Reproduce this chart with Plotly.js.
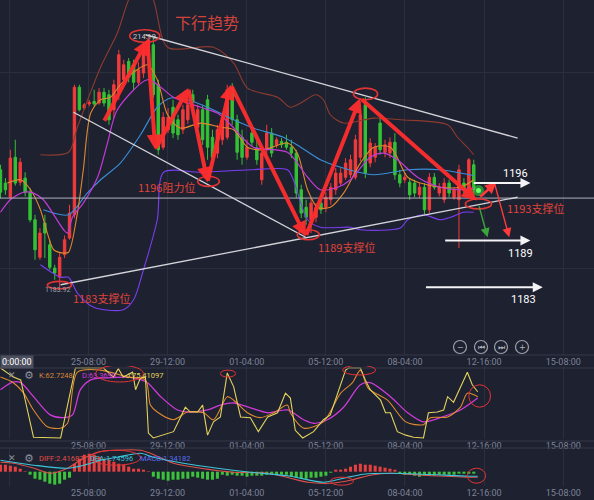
<!DOCTYPE html>
<html><head><meta charset="utf-8">
<script src="https://cdn.plot.ly/plotly-3.0.1.min.js"></script>
<style>html,body{margin:0;padding:0;background:#1e2130;}#chart{width:594px;height:500px;}</style>
</head><body><div id="chart"></div>
<script>
// ---------- DATA ----------
const candleIdx = [0,1,2,3,4,5,6,7,8,9,10,11,12,13,14,15,16,17,18,19,20,21,22,23,24,25,26,27,28,29,30,31,32,33,34,35,36,37,38,39,40,41,42,43,44,45,46,47,48,49,50,51,52,53,54,55,56,57,58,59,60,61,62,63,64,65,66,67,68,69,70,71,72,73,74,75,76,77,78,79,80,81,82,83,84,85,86,87,88,89,90,91,92,93,94,95,96];
const opens = [1198.0,1196.4,1194.7,1199.5,1196.5,1197.0,1195.3,1192.0,1187.5,1191.6,
1189.0,1186.2,1185.1,1187.8,1189.8,1192.6,1207.9,1205.4,1205.9,1206.2,
1206.0,1207.3,1207.0,1205.2,1207.2,1208.8,1211.0,1210.6,1208.5,1209.6,
1211.8,1213.0,1208.2,1200.7,1202.8,1205.5,1204.0,1202.8,1204.0,1207.0,
1203.1,1205.2,1206.4,1201.9,1200.0,1201.6,1201.9,1207.9,1204.0,1201.9,
1199.5,1202.4,1200.6,1196.8,1200.4,1202.4,1201.0,1201.4,1201.3,1200.7,
1200.0,1195.6,1193.5,1192.0,1192.3,1194.0,1193.5,1194.4,1195.6,1196.4,
1197.1,1197.4,1197.1,1199.5,1205.8,1198.8,1199.5,1203.6,1200.1,1200.0,
1201.3,1197.4,1196.8,1196.5,1196.4,1195.0,1195.9,1193.2,1197.1,1195.2,
1194.4,1196.4,1194.7,1194.4,1196.4,1195.6,1198.6];
const highs = [1198.6,1197.0,1200.4,1201.6,1199.4,1197.7,1195.8,1192.6,1191.0,1192.6,
1189.6,1186.6,1188.1,1190.1,1193.8,1208.2,1208.2,1206.0,1206.4,1207.6,
1207.8,1207.8,1207.6,1208.8,1212.4,1211.2,1211.4,1211.2,1210.9,1213.2,
1214.19,1213.8,1208.8,1204.9,1205.4,1206.4,1204.6,1205.8,1206.4,1207.6,
1205.8,1205.8,1207.0,1202.8,1203.4,1204.6,1208.2,1208.4,1204.6,1202.8,
1201.6,1203.0,1201.6,1200.4,1203.4,1203.0,1201.9,1201.8,1202.2,1201.6,
1200.4,1196.2,1194.4,1194.6,1194.0,1195.0,1195.3,1196.4,1198.2,1198.2,
1199.4,1199.8,1202.2,1205.2,1206.7,1201.8,1201.2,1204.2,1201.6,1201.9,
1202.4,1198.0,1197.6,1197.0,1196.8,1196.4,1196.4,1197.6,1197.6,1196.4,
1197.0,1196.8,1195.9,1198.6,1197.0,1199.4,1199.2];
const lows = [1194.6,1195.0,1194.4,1196.1,1196.1,1194.8,1191.7,1187.2,1187.2,1187.4,
1186.0,1184.8,1183.92,1187.4,1189.6,1192.2,1205.0,1205.2,1205.6,1205.6,
1205.8,1205.6,1203.4,1204.2,1206.4,1208.2,1208.5,1207.6,1208.1,1209.0,
1211.2,1206.6,1199.8,1200.4,1202.4,1201.8,1201.6,1202.3,1203.5,1205.0,
1202.8,1201.0,1199.2,1198.6,1199.4,1201.0,1201.6,1203.4,1199.2,1198.6,
1199.2,1200.8,1198.6,1196.2,1199.8,1199.5,1200.6,1200.6,1200.4,1199.4,
1194.6,1192.2,1191.4,1190.4,1191.7,1192.7,1192.9,1193.8,1195.0,1196.1,
1196.8,1197.0,1196.8,1199.0,1197.0,1198.3,1198.9,1199.8,1199.5,1199.4,
1196.8,1195.9,1196.4,1194.4,1194.7,1194.6,1192.6,1192.8,1195.6,1194.8,
1194.0,1194.7,1194.4,1188.6,1195.2,1195.2,1194.4];
const closes = [1195.3,1195.6,1199.4,1196.4,1198.9,1195.3,1192.0,1188.4,1190.4,1190.4,
1186.3,1185.6,1187.5,1189.6,1192.8,1207.9,1205.2,1205.8,1206.1,1205.9,
1207.3,1206.0,1204.0,1208.2,1211.8,1210.6,1209.1,1208.5,1210.0,1212.4,
1213.6,1207.0,1200.4,1204.3,1204.3,1202.4,1202.2,1205.2,1205.8,1206.1,
1205.2,1201.6,1200.7,1199.5,1202.8,1204.0,1207.6,1204.0,1200.1,1199.5,
1200.7,1201.3,1199.2,1200.0,1202.4,1200.0,1201.6,1201.0,1200.7,1200.0,
1195.2,1192.8,1192.3,1194.0,1193.5,1193.2,1194.7,1195.9,1197.6,1197.6,
1198.8,1199.2,1201.6,1204.6,1197.6,1201.2,1200.7,1200.4,1201.0,1201.3,
1197.4,1196.4,1197.1,1195.0,1195.2,1195.9,1193.2,1197.1,1195.9,1195.9,
1196.4,1195.2,1195.6,1198.0,1195.6,1199.2,1195.6];

// Bollinger bands and moving averages (read at sample points)
const bbUpIdx = [8.1,13.8,15.6,20.3,23.7,26,28.4,31,33.9,43.2,47.3,50.1,56.2,58.8,60.9,63.9,65.5,66.9,69.6,75.7,81.1,90.7,92.7,94.7,96];
const bbUpVal = [1199.8,1200.1,1203.1,1210.3,1214.4,1218.4,1220.8,1218.4,1212.7,1212.7,1210.8,1207.8,1206.7,1205.5,1206.0,1207.0,1206.4,1204.6,1203.6,1204.2,1204.0,1203.4,1201.9,1200.7,1199.8];
const bbMidIdx = [8.7,13.8,17.6,20.3,24.3,28.4,31.8,34.5,37.9,42,47.3,51.3,57.4,60.9,64.9,69,75.7,82.6,89.2,93.3,96];
const bbMidVal = [1193.2,1192.6,1195.2,1196.8,1198.8,1202.2,1205.5,1206.6,1206.4,1205.5,1204.0,1203.0,1201.9,1200.7,1199.2,1198.3,1197.4,1198.0,1198.0,1197.6,1197.3];
const bbLowIdx = [8.1,12.2,13.8,15.6,18.9,24.9,27,29,31.8,33.1,40.6,50.7,58.2,59.4,62.3,64.9,71,73,81.1,82.6,85.8,89.2,91.3,93.9,96];
const bbLowVal = [1186.6,1185.1,1185.1,1183.2,1181.5,1181.2,1182.4,1186.0,1192.0,1197.7,1197.7,1198.0,1198.0,1196.8,1192.0,1191.1,1191.1,1190.8,1191.0,1192.0,1192.6,1192.0,1192.3,1192.9,1192.9];
const maFastIdx = [1.4,4.1,6.1,8.1,9.5,10.8,12.8,13.8,15.6,16.8,18.3,20.3,22.3,24.3,27,29.8,31.8,33.9,36.5,40.6,44.6,47.3,50.1,53.3,58.2,60.2,62.3,64.3,66.9,69.6,73,75.7,79.1,82.6,85.2,89.2,93.3,96];
const maFastVal = [1196.4,1196.8,1195.6,1193.2,1190.4,1188.4,1188.0,1188.1,1192.8,1198.0,1204.8,1206.4,1206.7,1208.2,1209.7,1210.6,1208.8,1204.6,1203.0,1203.6,1203.1,1202.8,1200.7,1200.4,1201.2,1200.0,1195.6,1193.5,1193.5,1195.2,1198.8,1200.7,1200.7,1197.1,1196.4,1195.9,1195.9,1196.8];
const maSlowIdx = [0,2,4.7,6.7,8.7,12.8,13.6,14.6,16.8,19.7,21.7,23.7,29.8,32.5,35.1,40.6,44,46.7,51.3,58.2,62.3,64.9,68.4,71,75,77.7,80.5,84.6,89.2,92.7,96];
const maSlowVal = [1192.9,1194.4,1195.3,1195.2,1194.4,1190.8,1190.4,1192.3,1194.0,1197.1,1201.2,1205.2,1208.8,1207.9,1206.7,1205.5,1204.8,1203.4,1200.7,1200.1,1197.1,1195.6,1195.9,1196.8,1199.5,1200.0,1199.2,1197.1,1195.9,1195.6,1195.8];

// KDJ
const kIdx = [0,2.6,4.7,6.7,9.5,12.2,13.6,15.6,20.3,25.8,29.4,30.4,31.8,35.1,37.9,41.2,43.2,46,47.3,50.1,52.7,55.4,58.2,58.8,61.5,65.5,69,71.4,73,74.6,78.5,82.2,85.8,87.2,90.7,93.3,94.7,96.8];
const kVal = [87,79,64,40,16,14,21,94,97,87,83,47,37,26,37,36,26,59,54,36,29,36,47,36,14,23,64,79,97,71,54,23,19,29,30,44,64,59];
const dIdx = [0,2.6,4.1,6.7,10.1,12.8,14.6,16.2,18.3,21.7,27,29.8,32.5,35.9,38.5,42,44.6,47.3,50.7,54.2,58.2,61.5,63.5,66.3,69.6,73,75,79.1,82.6,85.8,89.2,93.3,96.8];
const dVal = [69,80,79,59,33,29,33,69,83,86,86,79,59,40,37,40,47,50,43,36,40,26,21,26,44,76,79,59,36,23,29,40,57];
const jIdx = [0,2.6,4.1,6.7,12.2,15.2,20.9,22.9,23.9,24.9,26.8,27.4,28.4,29.4,30,31,35.1,37.5,38.5,40,41,42,43.2,44.6,46,47.3,48.7,50.7,52.3,54.2,56.2,57.8,58.8,59.8,61.3,63.5,65.5,66.9,70,70.6,73,74,75,77.1,78.1,79.1,80.5,82.2,83.8,85.8,86.8,88.6,89.9,90.7,91.9,94.7,95.7,96.8];
const jVal = [100,87,83,1,0,100,100,87,99,87,94,69,86,87,7,0,9,44,37,37,47,4,23,30,93,73,30,29,9,30,36,64,57,11,0,9,26,33,97,100,100,83,69,54,36,36,9,4,1,0,36,37,40,59,51,94,76,66];

// MACD
const macdHist = [1.4,1.4,1.2,1.0,0.6,0.1,-0.6,-1.4,-1.6,-2.0,
-2.4,-2.6,-2.4,-1.6,-1.2,1.6,2.6,3.4,3.6,3.4,
3.0,2.6,2.4,2.0,1.6,1.4,1.0,0.6,0.6,0.4,
0.1,-1.0,-1.4,-1.6,-1.8,-1.6,-1.6,-1.4,-1.4,-1.0,
-1.2,-1.4,-1.6,-1.6,-1.4,-0.6,-0.8,-0.6,-0.8,-0.8,
-1.0,-0.8,-0.8,-0.8,-0.6,-0.6,-0.6,-0.6,-0.6,-1.0,
-1.2,-1.4,-1.4,-1.2,-1.2,-1.0,-0.8,-0.2,0.4,0.4,
0.6,1.0,1.4,1.6,1.4,1.4,1.2,1.0,0.8,0.6,
0.4,-0.4,-0.6,-0.6,-0.8,-1.0,-0.8,-0.8,-0.8,-0.6,
-0.6,-0.6,-0.6,-0.4,-0.4,-0.4,-0.4];
const diffIdx = [0,2.7,6.8,10.1,13.6,16.2,19.7,23.7,28.4,30.4,35.1,40.6,47.3,54.2,58.8,62.3,66.9,71,75,79.1,85.8,95.3,96.8];
const diffVal = [1.9,1.7,0.7,-0.3,0.7,2.3,3.9,4.3,4.3,3.7,1.7,0.7,-0.1,-0.3,-1.3,-2.1,-2.3,-1.7,-0.7,-0.3,-0.7,-1.1,-1.1];
const deaIdx = [0,6.8,13.6,16.9,20.3,23.7,28.4,31,37.1,44,50.7,58.8,65.5,69.6,73.6,79.1,85.8,95.3,96.8];
const deaVal = [2.3,1.3,0.7,1.3,2.3,2.9,3.7,2.9,1.7,0.7,-0.1,-0.9,-2.1,-1.3,-0.5,-0.3,-0.5,-0.9,-0.9];

// time axis
const tickPos = [1.8,17.85,33.9,49.95,66.0,82.05,98.1,114.15];
const tickText = ['22-16:00','25-08:00','29-12:00','01-04:00','05-12:00','08-04:00','12-16:00','15-08:00'];

// drawn analysis
const zigIdx = [20.9,29.8,31.4,38.1,42,46.7,61.9,73,96.6];
const zigVal = [1203.7,1213.6,1200.4,1207.8,1196.5,1208.2,1190.0,1206.6,1194.3];
const trendX0 = [29.4,14.8,12.2], trendY0 = [1214.2,1204.9,1184.2];
const trendX1 = [104.9,61.9,104.9], trendY1 = [1201.8,1189.9,1194.7];
const levelVals = [1196.4,1189.5,1183.9];
const levelStart = [95.7,89.9,86.0];
const levelEnd = [107.5,107.5,110.0];
const levelText = ['1196','1189','1183'];
const lastPrice = 1194.6;

// ---------- BUILD ----------
const W=594,H=500;
const PX=x=>x/W, PY=y=>1-y/H;
const BG='#1e2130', GRID='#2a2e3d';
const CJK='"Noto Sans CJK SC", "Noto Sans", sans-serif';
const NUM='Roboto, "Noto Sans", sans-serif';

const traces=[];
traces.push({type:'candlestick',x:candleIdx,open:opens,high:highs,low:lows,close:closes,xaxis:'x',yaxis:'y',
  increasing:{line:{color:'#f23b3b',width:1},fillcolor:'#f23b3b'},
  decreasing:{line:{color:'#34c234',width:1},fillcolor:'#34c234'},
  whiskerwidth:0,hoverinfo:'skip',showlegend:false});
function ln(x,y,color,w,ax,ay,shape){
  traces.push({type:'scatter',mode:'lines',x:x,y:y,xaxis:ax||'x',yaxis:ay||'y',
    line:{color:color,width:w||1,shape:shape||'spline',smoothing:0.8},hoverinfo:'skip',showlegend:false});
}
ln(bbUpIdx,bbUpVal,'#8c3b2f',1.1);
ln(bbMidIdx,bbMidVal,'#3a8fd8',1.1);
ln(bbLowIdx,bbLowVal,'#7a3ef0',1.1);
ln(maFastIdx,maFastVal,'#e0892c',1.1);
ln(maSlowIdx,maSlowVal,'#c23bd6',1.2);

ln(dIdx,dVal,'#cf3ad8',1.3,'x2','y2');
ln(kIdx,kVal,'#e08a30',1.1,'x2','y2');
ln(jIdx,jVal,'#e3d35c',1.1,'x2','y2','linear');

traces.push({type:'bar',x:candleIdx,y:macdHist,xaxis:'x3',yaxis:'y3',width:0.62,
  marker:{color:macdHist.map(v=>v>=0?'#e5403f':'#3cc23c'),line:{width:0}},hoverinfo:'skip',showlegend:false});
ln(diffIdx,diffVal,'#e0504a',1.1,'x3','y3');
ln(deaIdx,deaVal,'#3cc6da',1.1,'x3','y3');

const xbase={range:[-0.1,120.39],tickmode:'array',tickvals:tickPos,ticktext:tickText,showgrid:true,gridcolor:GRID,gridwidth:1,
  zeroline:false,showline:false,ticks:'',tickfont:{family:NUM,size:9,color:'#7d8396'},fixedrange:true};

const shapes=[];
// panel separators
[355,368,441,448].forEach(y=>shapes.push({type:'line',xref:'paper',yref:'paper',x0:0,x1:1,y0:PY(y),y1:PY(y),line:{color:'#343949',width:1}}));
// last price line
shapes.push({type:'line',xref:'paper',yref:'y',x0:0,x1:1,y0:lastPrice,y1:lastPrice,line:{color:'#aeb2bc',width:1}});
// trend lines
for(let k=0;k<trendX0.length;k++){
  shapes.push({type:'line',xref:'x',yref:'y',x0:trendX0[k],y0:trendY0[k],x1:trendX1[k],y1:trendY1[k],line:{color:'#d4d4da',width:1.3}});
}
// ellipses
function ell(x0,x1,y0,y1,xr,yr,w){shapes.push({type:'circle',xref:xr,yref:yr,x0:x0,x1:x1,y0:y0,y1:y1,line:{color:'#e23434',width:w||1.6}});}
ell(26.2,32.3,1213.3,1214.8,'x','y');
ell(71.6,76.5,1206.4,1207.8,'x','y');
ell(40.0,44.4,1196.0,1197.2,'x','y');
ell(60.2,64.7,1189.6,1190.8,'x','y');
ell(9.5,14.4,1183.7,1184.6,'x','y');
ell(94.3,99.6,1193.3,1194.5,'x','y');
ell(19.3,29.0,80,104,'x2','y2',1);
ell(44.6,47.7,87,97,'x2','y2',1);
ell(69.4,76.1,90,104,'x2','y2',1);
ell(95.0,99.4,44,76,'x2','y2',1);
ell(18.3,28.4,1.3,4.3,'x3','y3',1);
ell(66.9,71.6,-2.7,-1.1,'x3','y3',1);
ell(94.7,98.4,-2.3,0.7,'x3','y3',1);
// green glow
shapes.push({type:'circle',xref:'paper',yref:'paper',x0:PX(473),x1:PX(484),y0:PY(196),y1:PY(185),fillcolor:'rgba(60,220,60,0.55)',line:{width:0}});
shapes.push({type:'circle',xref:'paper',yref:'paper',x0:PX(476),x1:PX(481),y0:PY(193),y1:PY(188),fillcolor:'#6cff6c',line:{width:0}});
// zoom buttons
const btnX=[460,481,501,522], btnSym=['−','⏮','⏭','+'];
btnX.forEach(cx=>shapes.push({type:'circle',xref:'paper',yref:'paper',x0:PX(cx-6.5),x1:PX(cx+6.5),y0:PY(353.5),y1:PY(340.5),line:{color:'#9ba0ab',width:1.2}}));

const ann=[];
function txt(x,y,t,size,color,opts){ann.push(Object.assign({xref:'paper',yref:'paper',x:PX(x),y:PY(y),text:t,showarrow:false,
  font:{family:CJK,size:size,color:color},xanchor:'center',yanchor:'middle'},opts||{}));}
function arrow(x0,y0,x1,y1,color,w,size){ann.push({xref:'x',yref:'y',axref:'x',ayref:'y',x:x1,y:y1,ax:x0,ay:y0,text:'',
  showarrow:true,arrowhead:2,arrowsize:size||1,arrowwidth:w,arrowcolor:color,standoff:0,startstandoff:0});}
for(let k=0;k<zigIdx.length-1;k++) arrow(zigIdx[k],zigVal[k],zigIdx[k+1],zigVal[k+1],'rgba(255,45,45,0.95)',4,0.75);
arrow(97,1194.6,100.6,1196.5,'#ff3a3a',2.5,0.9);
arrow(100.2,1196.4,103.2,1189.9,'#ff3a3a',1.4,1.3);
arrow(97,1193.8,98.8,1189.9,'#3aa53a',1.4,1.3);
for(let k=0;k<levelVals.length;k++) arrow(levelStart[k],levelVals[k],levelEnd[k],levelVals[k],'#f4f4f6',2,1);

txt(207,22,'下行趋势',16,'#d4433a');
ann.push({xref:'x',yref:'y',x:29.2,y:1214.05,text:'214.19',showarrow:false,font:{family:NUM,size:7.5,color:'#c9cbd3'}});
txt(166,187,'1196阻力位',11,'#e0443c');
txt(58,290,'1183.92',7,'#9fa3ae',{font:{family:NUM,size:7,color:'#9fa3ae'}});
txt(101,298,'1183支撑位',11,'#e0443c');
txt(347,247,'1189支撑位',11,'#e0443c');
txt(535,208,'1193支撑位',11,'#e0443c');
const lvlPos=[[515,173],[520,253],[523,299]];
levelText.forEach((t,k)=>txt(lvlPos[k][0],lvlPos[k][1],t,11,'#ffffff',{font:{family:NUM,size:11,color:'#ffffff'}}));
btnX.forEach((cx,k)=>txt(cx,347,btnSym[k],8,'#b0b4be',{font:{family:'"DejaVu Sans", sans-serif',size:8,color:'#b0b4be'}}));
// crosshair time box
ann.push({xref:'paper',yref:'paper',x:0,y:PY(362),xanchor:'left',yanchor:'middle',text:'0:00:00',showarrow:false,
  bgcolor:'#4c505e',borderpad:1,font:{family:NUM,size:9,color:'#ffffff'}});
// indicator legends
function leg(x,y,t,c){txt(x,y,t,7.5,c,{xanchor:'left',font:{family:NUM,size:7.5,color:c}});}
[375,458].forEach(y=>{
  txt(12,y,'✕',9,'#8d919c',{font:{family:'"DejaVu Sans", sans-serif',size:9,color:'#8d919c'}});
  txt(29,y,'⚙',11,'#8d919c',{font:{family:'"DejaVu Sans", sans-serif',size:11,color:'#8d919c'}});
});
leg(37,375,'K:62.7248','#d88a3a');
leg(80,375,'D:63.3690','#d23ad6');
leg(124,375,'J:75.41097','#e3d35c');
leg(37,458,'DIFF:2.41687','#e0504a');
leg(88,458,'DEA:1.74596','#3cc6da');
leg(138,458,'MACD:1.34182','#5a6ef2');

const layout={width:W,height:H,margin:{l:0,r:0,t:0,b:0},paper_bgcolor:BG,plot_bgcolor:BG,showlegend:false,
  xaxis:Object.assign({},xbase,{anchor:'y',rangeslider:{visible:false}}),
  xaxis2:Object.assign({},xbase,{anchor:'y2',matches:'x'}),
  xaxis3:Object.assign({},xbase,{anchor:'y3',matches:'x'}),
  yaxis:{domain:[PY(355),1],range:[1175.77,1218.37],tickmode:'array',tickvals:[1209.7,1186.1],showticklabels:false,
    gridcolor:GRID,zeroline:false,showline:false,fixedrange:true},
  yaxis2:{domain:[PY(439),PY(366)],range:[-1.5,102.86],showgrid:false,showticklabels:false,zeroline:false,fixedrange:true},
  yaxis3:{domain:[PY(486),PY(448)],range:[-2.86,4.74],showgrid:false,showticklabels:false,zeroline:false,fixedrange:true},
  shapes:shapes,annotations:ann};
Plotly.newPlot('chart',traces,layout,{staticPlot:true,displayModeBar:false});
</script></body></html>
